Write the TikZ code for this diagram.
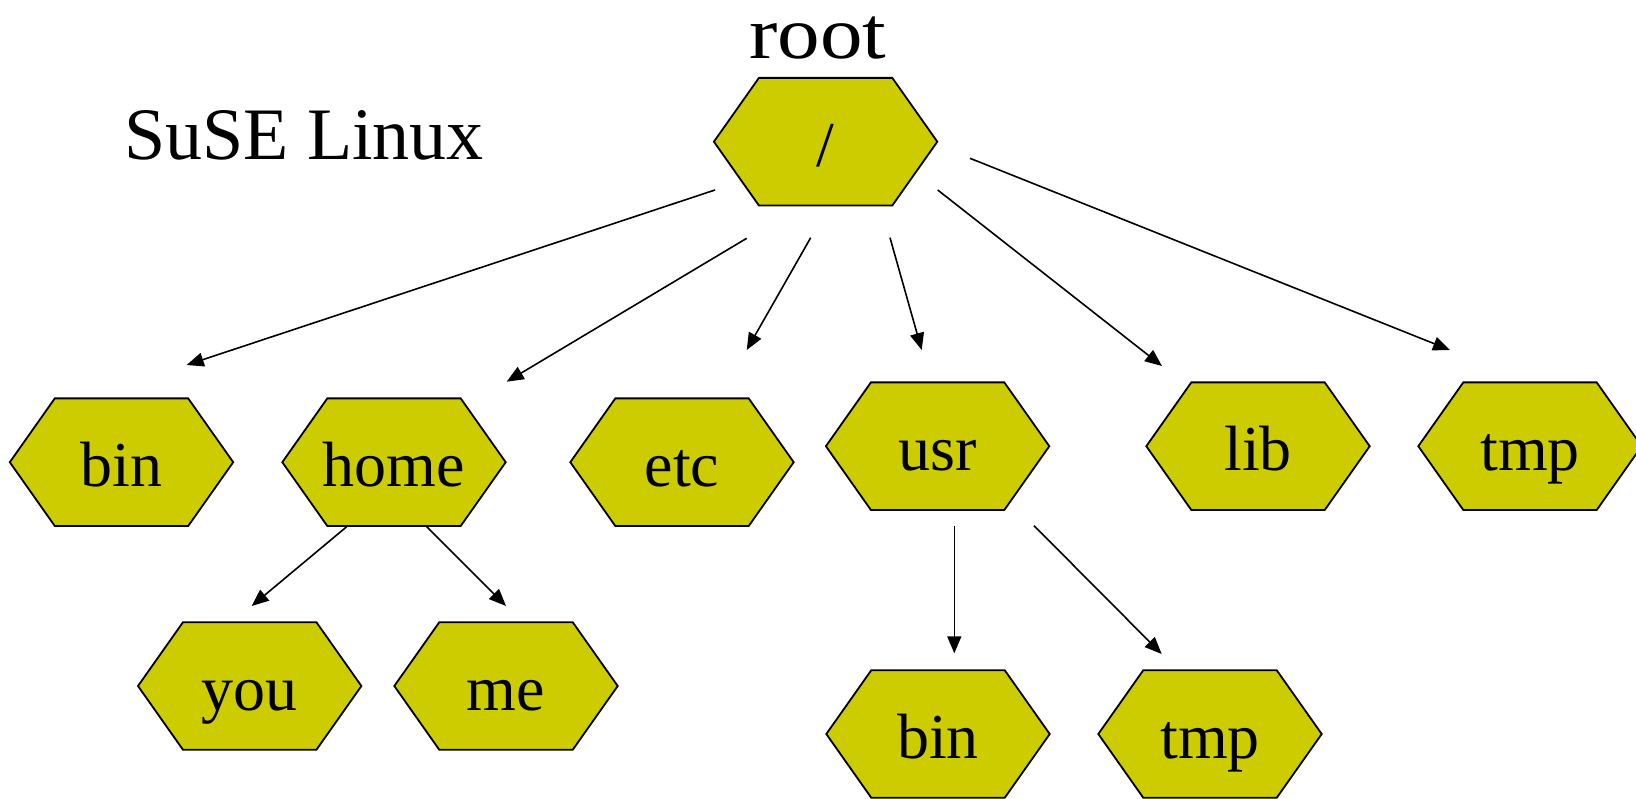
\documentclass[tikz,border=0pt]{standalone}
\usepackage{fontspec}
\setmainfont{Liberation Serif}
\usetikzlibrary{arrows.meta}

\definecolor{hexyellow}{RGB}{204,204,0}

\tikzset{
  hexface/.style={fill=hexyellow, draw=black, line width=1.8pt, line join=miter},
  dirlabel/.style={inner sep=0pt, text height=49pt, text depth=0pt,
    font=\fontsize{64}{64}\selectfont},
  link/.style={-{Triangle[length=17pt,width=14pt]}, line width=1.6pt},
}

% hexagonal directory box: name, x, y, label
\newcommand\dirnode[4]{%
  \draw[hexface] (#2,#3) +(-66.7,-63.8) -- +(66.7,-63.8) -- +(111.7,0)
    -- +(66.7,63.8) -- +(-66.7,63.8) -- +(-111.7,0) -- cycle;
  \node[dirlabel] (#1) at (#2,#3) {#4};}

\begin{document}
\begin{tikzpicture}[x=1pt,y=-1pt]
\useasboundingbox (0,0) rectangle (1636,799);

% titles
\node[anchor=base, inner sep=0pt, text height=50pt, font=\fontsize{74}{74}\selectfont] (title) at (817.7,58.3) {\scalebox{1.15}[1]{root}};
\node[anchor=base west, inner sep=0pt, font=\fontsize{74}{74}\selectfont] (system) at (124,159.5) {SuSE Linux};

% directory tree
\dirnode{root}{825.6}{141.7}{/}
\dirnode{bin}{121.5}{462.2}{bin}
\dirnode{home}{394}{462.2}{home}
\dirnode{etc}{682}{462.2}{etc}
\dirnode{usr}{937.6}{446.2}{usr}
\dirnode{lib}{1258}{446.2}{lib}
\dirnode{tmp}{1530}{446.2}{tmp}
\dirnode{you}{249.7}{686}{you}
\dirnode{me}{506}{686}{me}
\dirnode{usrbin}{938}{734}{bin}
\dirnode{usrtmp}{1210}{734}{tmp}

% links from the root
\draw[link] ([shift={(-110.6,48.3)}]root.center) -- ([shift={(65.2,-97.2)}]bin.center);
\draw[link] ([shift={(-78.9,96.6)}]root.center) -- ([shift={(112.7,-80.5)}]home.center);
\draw[link] ([shift={(-14.9,96)}]root.center) -- ([shift={(64.7,-112.2)}]etc.center);
\draw[link] ([shift={(64.4,96)}]root.center) -- ([shift={(-15.9,-96.2)}]usr.center);
\draw[link] ([shift={(112.1,48.3)}]root.center) -- ([shift={(-96,-80.2)}]lib.center);
\draw[link] ([shift={(144.4,16.6)}]root.center) -- ([shift={(-80,-96.2)}]tmp.center);

% links below home and usr
\draw[link] ([shift={(-47.3,64.5)}]home.center) -- ([shift={(2,-80)}]you.center);
\draw[link] ([shift={(32.7,64.5)}]home.center) -- ([shift={(0,-80)}]me.center);
\draw[link] ([shift={(16.7,79.5)}]usr.center) -- ([shift={(16.3,-80.7)}]usrbin.center);
\draw[link] ([shift={(96.4,79.5)}]usr.center) -- ([shift={(-48.3,-80)}]usrtmp.center);
\end{tikzpicture}
\end{document}
